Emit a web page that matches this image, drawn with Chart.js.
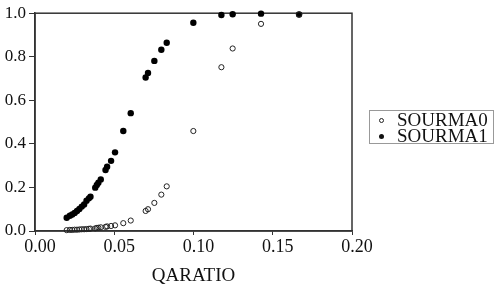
<!DOCTYPE html>
<html lang="en">
<head>
    <meta charset="UTF-8">
    <title>SOURMA vs QARATIO</title>
    <script src="https://cdn.jsdelivr.net/npm/chart.js"></script>
    <style>
        html, body { margin: 0; padding: 0; background: #fff; }
        #wrap { position: relative; width: 496px; height: 289px; }
        #legend {
            position: absolute; left: 369px; top: 110px; width: 125px; height: 34px;
            border: 1px solid #999; box-sizing: border-box;
            font-family: "Liberation Serif", "Times New Roman", serif; font-size: 19px; line-height: 16px;
            color: #111;
        }
        .item { position: relative; height: 16px; padding-left: 27px; white-space: nowrap; }
        .item:first-child { margin-top: 1px; }
        .dot { position: absolute; left: 9px; top: 6px; width: 5px; height: 5px; border-radius: 50%; box-sizing: border-box; }
        .dot.open { border: 1px solid #222; }
        .dot.fill { background: #111; }
    </style>
</head>
<body>
    <div id="wrap">
        <canvas id="chart" width="496" height="289"></canvas>
        <div id="legend">
            <div class="item"><span class="dot open"></span>SOURMA0</div>
            <div class="item"><span class="dot fill"></span>SOURMA1</div>
        </div>
    </div>

    <script>
        // values
        const qaratio = [0.020, 0.022, 0.0235, 0.025, 0.0265, 0.028, 0.0295, 0.031, 0.0325, 0.034,
                         0.035, 0.038, 0.039, 0.040, 0.0415, 0.0445, 0.0455, 0.048, 0.0505, 0.0557,
                         0.0604, 0.0698, 0.0713, 0.0753, 0.0797, 0.0831, 0.0999, 0.1176, 0.1247, 0.1426, 0.1666];
        const sourma1 = [0.061, 0.070, 0.076, 0.083, 0.092, 0.101, 0.112, 0.122, 0.139, 0.150,
                         0.157, 0.199, 0.211, 0.222, 0.237, 0.280, 0.295, 0.322, 0.361, 0.459,
                         0.541, 0.705, 0.726, 0.781, 0.832, 0.864, 0.956, 0.992, 0.995, 0.998, 0.994];
        const sourma0 = [0.004, 0.005, 0.005, 0.006, 0.006, 0.007, 0.008, 0.008, 0.009, 0.010,
                         0.011, 0.012, 0.014, 0.015, 0.017, 0.019, 0.021, 0.023, 0.026, 0.036,
                         0.048, 0.092, 0.100, 0.129, 0.167, 0.205, 0.459, 0.752, 0.838, 0.951, 0.994];
        const xTicks = [0, 0.05, 0.10, 0.15, 0.20];
        const yTicks = [0, 0.2, 0.4, 0.6, 0.8, 1.0];

        const toPoints = ys => qaratio.map((x, i) => ({ x: x, y: ys[i] }));

        // box round the plot area, under the points
        const frame = {
            id: 'frame',
            beforeDatasetsDraw(chart) {
                const a = chart.chartArea, ctx = chart.ctx;
                ctx.save();
                ctx.strokeStyle = '#333';
                ctx.lineWidth = 1.5;
                ctx.strokeRect(a.left, a.top, a.right - a.left, a.bottom - a.top);
                ctx.restore();
            }
        };

        const serif = '"Liberation Serif", "Times New Roman", serif';

        new Chart(document.getElementById('chart'), {
            type: 'scatter',
            data: {
                datasets: [
                    {
                        label: 'SOURMA0',
                        data: toPoints(sourma0),
                        clip: false,
                        pointStyle: 'circle',
                        pointRadius: 2.6,
                        borderWidth: 1,
                        borderColor: '#222',
                        backgroundColor: 'rgba(0,0,0,0)'
                    },
                    {
                        label: 'SOURMA1',
                        data: toPoints(sourma1),
                        clip: false,
                        pointStyle: 'circle',
                        pointRadius: 3.2,
                        borderWidth: 0,
                        borderColor: '#000',
                        backgroundColor: '#000'
                    }
                ]
            },
            options: {
                responsive: false,
                animation: false,
                layout: { padding: { left: 0, right: 144, top: 13, bottom: 0 } },
                plugins: { legend: { display: false }, tooltip: { enabled: false } },
                scales: {
                    x: {
                        type: 'linear', min: 0, max: 0.2,
                        afterFit: s => { s.height = 58; },
                        afterBuildTicks: s => { s.ticks = xTicks.map(v => ({ value: v })); },
                        grid: { drawOnChartArea: false, drawTicks: true, tickLength: 4, color: '#333' },
                        border: { display: true, color: '#333', width: 1.5 },
                        ticks: {
                            padding: 1, labelOffset: 5, color: '#111', maxRotation: 0,
                            font: { family: serif, size: 18 },
                            callback: v => v.toFixed(2)
                        },
                        title: {
                            display: true, text: 'QARATIO', color: '#111',
                            font: { family: serif, size: 19 },
                            padding: { top: 0, bottom: 2 }
                        }
                    },
                    y: {
                        type: 'linear', min: 0, max: 1,
                        afterFit: s => { s.width = 35; },
                        afterBuildTicks: s => { s.ticks = yTicks.map(v => ({ value: v })); },
                        grid: { drawOnChartArea: false, drawTicks: true, tickLength: 6, color: '#333' },
                        border: { display: true, color: '#333', width: 1.5 },
                        ticks: {
                            padding: 3, color: '#111',
                            font: { family: serif, size: 17 },
                            callback: v => v.toFixed(1)
                        }
                    }
                }
            },
            plugins: [frame]
        });
    </script>
</body>
</html>
